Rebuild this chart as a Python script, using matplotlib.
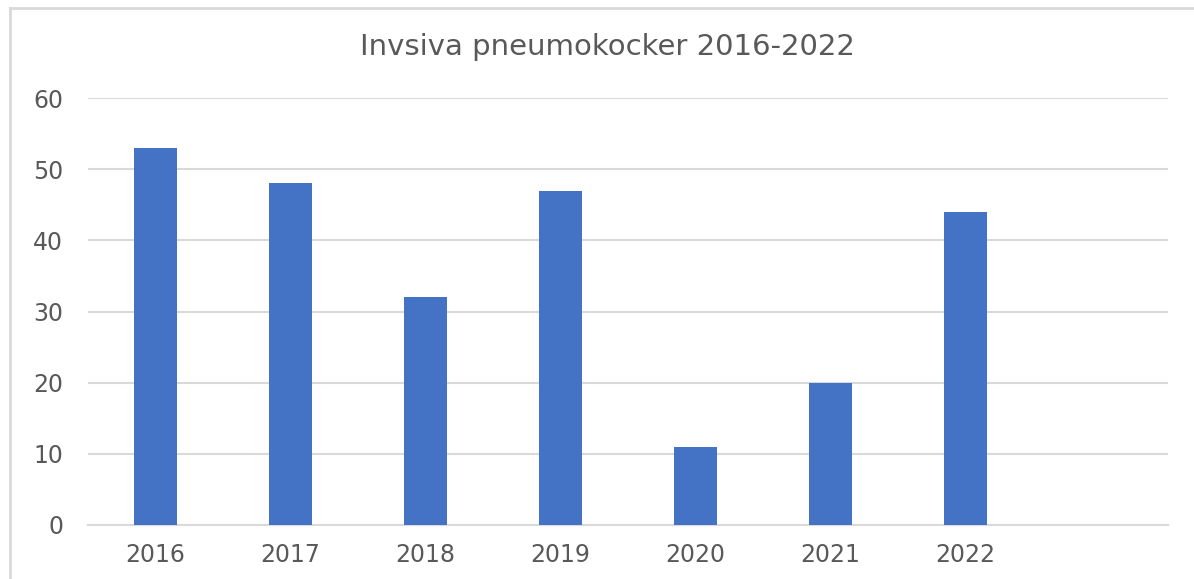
import matplotlib
matplotlib.use('Agg')
import matplotlib.pyplot as plt
from matplotlib.lines import Line2D

years = ['2016', '2017', '2018', '2019', '2020', '2021', '2022', '']
cases = [53, 48, 32, 47, 11, 20, 44, 0]
yticks = [0, 10, 20, 30, 40, 50, 60]

plt.rcParams['font.family'] = ['DejaVu Sans']

fig = plt.figure(figsize=(11.94, 5.79), dpi=100)
ax = fig.add_axes([88/1194, 54/579, 1080/1194, 427/579])

x = list(range(len(years)))
ax.bar(x[:7], cases[:7], width=0.32, color='#4472c4', zorder=3)
ax.set_xlim(-0.5, len(years) - 0.5)
ax.set_ylim(0, 60)
ax.set_yticks(yticks)
ax.set_xticks(x)
ax.set_xticklabels(years)
ax.yaxis.grid(True, color='#d9d9d9', linewidth=1.5, zorder=0)
for s in ['top', 'right', 'left']:
    ax.spines[s].set_visible(False)
ax.spines['bottom'].set_color('#d9d9d9')
ax.spines['bottom'].set_linewidth(1.5)
ax.tick_params(length=0, labelsize=17, colors='#595959')
ax.tick_params(axis='y', pad=18)
ax.tick_params(axis='x', pad=13)

fig.text(607/1194, 1 - 47/579, 'Invsiva pneumokocker 2016-2022', ha='center', va='center',
         fontsize=21, color='#595959')

# chart frame (left and top edge)
fig.add_artist(Line2D([10/1194, 10/1194], [0, 1 - 8/579], color='#d9d9d9', lw=2))
fig.add_artist(Line2D([10/1194, 1], [1 - 8/579, 1 - 8/579], color='#d9d9d9', lw=2))

fig.savefig('out.png', dpi=100)
